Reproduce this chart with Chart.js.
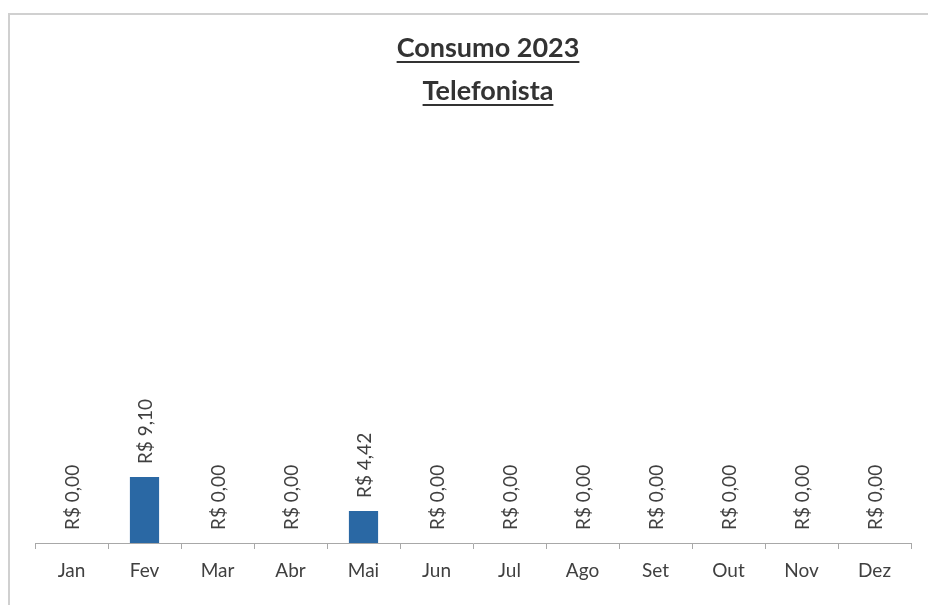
<!DOCTYPE html>
<html>
<head>
<meta charset="utf-8">
<script src="https://cdn.jsdelivr.net/npm/chart.js@4/dist/chart.umd.min.js"></script>
<style>
  html, body { margin: 0; padding: 0; background: #fff; }
  #wrap { position: relative; width: 928px; height: 605px; overflow: hidden; }
  #frame { position: absolute; left: 8px; top: 13px; width: 1000px; height: 700px;
           border-left: 2px solid #d0d0d0; border-top: 2px solid #d0d0d0; }
  canvas { position: absolute; left: 0; top: 0; }
</style>
</head>
<body>
<div id="wrap">
  <div id="frame"></div>
  <canvas id="consumo-chart" width="928" height="605"></canvas>
</div>
<script>
const titleLines = ['Consumo 2023', 'Telefonista'];
const months = ['Jan', 'Fev', 'Mar', 'Abr', 'Mai', 'Jun', 'Jul', 'Ago', 'Set', 'Out', 'Nov', 'Dez'];
const valores = [0, 9.10, 0, 0, 4.42, 0, 0, 0, 0, 0, 0, 0];

const brl = v => 'R$ ' + v.toFixed(2).replace('.', ',');

// titulo sublinhado (Chart.js nao sublinha texto)
const underlineTitle = {
  id: 'underlineTitle',
  afterDraw(chart) {
    const ctx = chart.ctx;
    ctx.save();
    ctx.font = 'bold 27px Lato';
    ctx.fillStyle = '#333333';
    ctx.strokeStyle = '#333333';
    ctx.lineWidth = 2;
    ctx.textAlign = 'center';
    ctx.textBaseline = 'alphabetic';
    const cx = 488;
    titleLines.forEach((t, i) => {
      const base = 57 + i * 43;
      ctx.fillText(t, cx, base);
      const w = ctx.measureText(t).width;
      ctx.beginPath();
      ctx.moveTo(cx - w / 2, base + 5);
      ctx.lineTo(cx + w / 2, base + 5);
      ctx.stroke();
    });
    ctx.restore();
  }
};

// rotulos de valor na vertical, acima de cada barra
const valueLabels = {
  id: 'valueLabels',
  afterDatasetsDraw(chart) {
    const ctx = chart.ctx;
    const meta = chart.getDatasetMeta(0);
    ctx.save();
    ctx.font = '19px Lato';
    ctx.fillStyle = '#404040';
    ctx.textAlign = 'left';
    ctx.textBaseline = 'middle';
    meta.data.forEach((bar, i) => {
      ctx.save();
      ctx.translate(bar.x + 1, bar.y - 13);
      ctx.rotate(-Math.PI / 2);
      ctx.fillText(brl(valores[i]), 0, 0);
      ctx.restore();
    });
    ctx.restore();
  }
};

const data = {
  labels: months,
  datasets: [{
    label: 'Telefonista',
    data: valores,
    backgroundColor: '#2a68a4',
    barPercentage: 0.4,
    categoryPercentage: 1.0
  }]
};

const config = {
  type: 'bar',
  data: data,
  options: {
    responsive: false,
    animation: false,
    devicePixelRatio: 1,
    layout: { padding: { left: 35, right: 17, top: 181, bottom: 0 } },
    plugins: {
      legend: { display: false },
      title: { display: false },
      tooltip: { enabled: false }
    },
    scales: {
      x: {
        afterFit(scale) { scale.height = 62; },
        grid: {
          offset: true,
          drawOnChartArea: false,
          drawTicks: true,
          tickLength: 6,
          color: '#a8a8a8'
        },
        border: { display: true, color: '#a8a8a8', width: 1 },
        ticks: {
          color: '#404040',
          font: { family: 'Lato', size: 19 },
          padding: 10,
          maxRotation: 0
        }
      },
      y: {
        display: false,
        min: 0,
        max: 50
      }
    }
  },
  plugins: [underlineTitle, valueLabels]
};

let obj = document.getElementById('consumo-chart');
let consumo = new Chart(obj, config);
</script>
</body>
</html>
